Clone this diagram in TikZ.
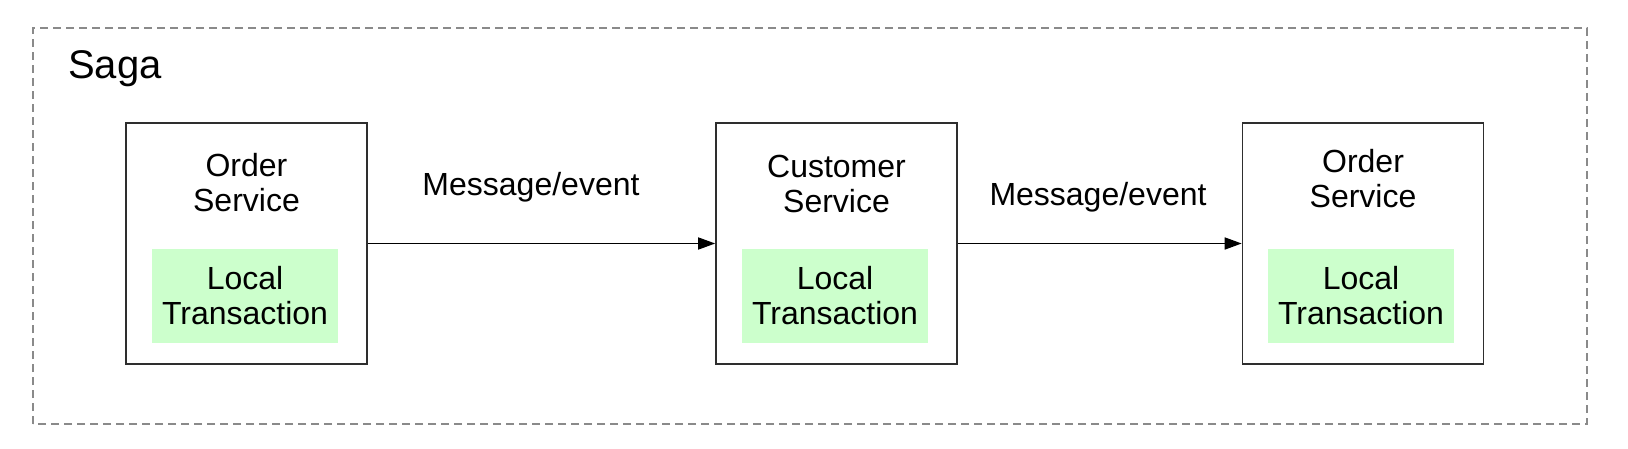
\documentclass[tikz,border=0pt]{standalone}
\usepackage{fontspec}
\setmainfont{Liberation Sans}
\usepackage{xcolor}
\usepackage{tikz}
\usetikzlibrary{positioning,arrows.meta}

\definecolor{sagagray}{HTML}{8A8A8A}
\definecolor{boxline}{HTML}{2E2E2E}
\definecolor{txgreen}{HTML}{CCFFCC}

\begin{document}
\begin{tikzpicture}[
        service/.style={draw=boxline, line width=1.6pt, minimum width=241pt, minimum height=241pt, inner sep=0pt},
        title/.style={align=center, font=\fontsize{32}{35}\selectfont, inner sep=0pt},
        localtx/.style={fill=txgreen, align=center, minimum width=186pt, minimum height=94pt, inner sep=0pt, font=\fontsize{32}{35}\selectfont},
        msg/.style={anchor=base, font=\fontsize{32}{35}\selectfont, inner sep=0pt},
        flow/.style={line width=1.6pt, -{Triangle[length=17pt,width=12pt]}}
    ]
        \useasboundingbox (0,0) rectangle (1628pt,448pt);

        % saga frame
        \draw[sagagray, line width=1.2pt, dash pattern=on 8pt off 5pt] (33pt,24pt) rectangle (1587pt,420pt);
        \node[anchor=base west, inner sep=0pt, font=\fontsize{40}{44}\selectfont] (saga) at (68pt,369pt) {Saga};

        % services
        \node[service] (order1) at (246.5pt,204.5pt) {};
        \node[service] (customer) at (836.5pt,204.5pt) {};
        \node[service] (order2) at (1363pt,204.5pt) {};

        \node[title] (order1title) at (246.5pt,265pt) {Order\\Service};
        \node[title] (customertitle) at (836.5pt,264pt) {Customer\\Service};
        \node[title] (order2title) at (1363pt,269pt) {Order\\Service};

        \node[localtx] (order1tx) at (245pt,152pt) {Local\\Transaction};
        \node[localtx] (customertx) at (835pt,152pt) {Local\\Transaction};
        \node[localtx] (order2tx) at (1361pt,152pt) {Local\\Transaction};

        % messages
        \draw[flow] (order1.east) -- (customer.west);
        \draw[flow] (customer.east) -- (order2.west);
        \node[msg] (msg1) at (531pt,253pt) {Message/event};
        \node[msg] (msg2) at (1098pt,243pt) {Message/event};
    \end{tikzpicture}
\end{document}
